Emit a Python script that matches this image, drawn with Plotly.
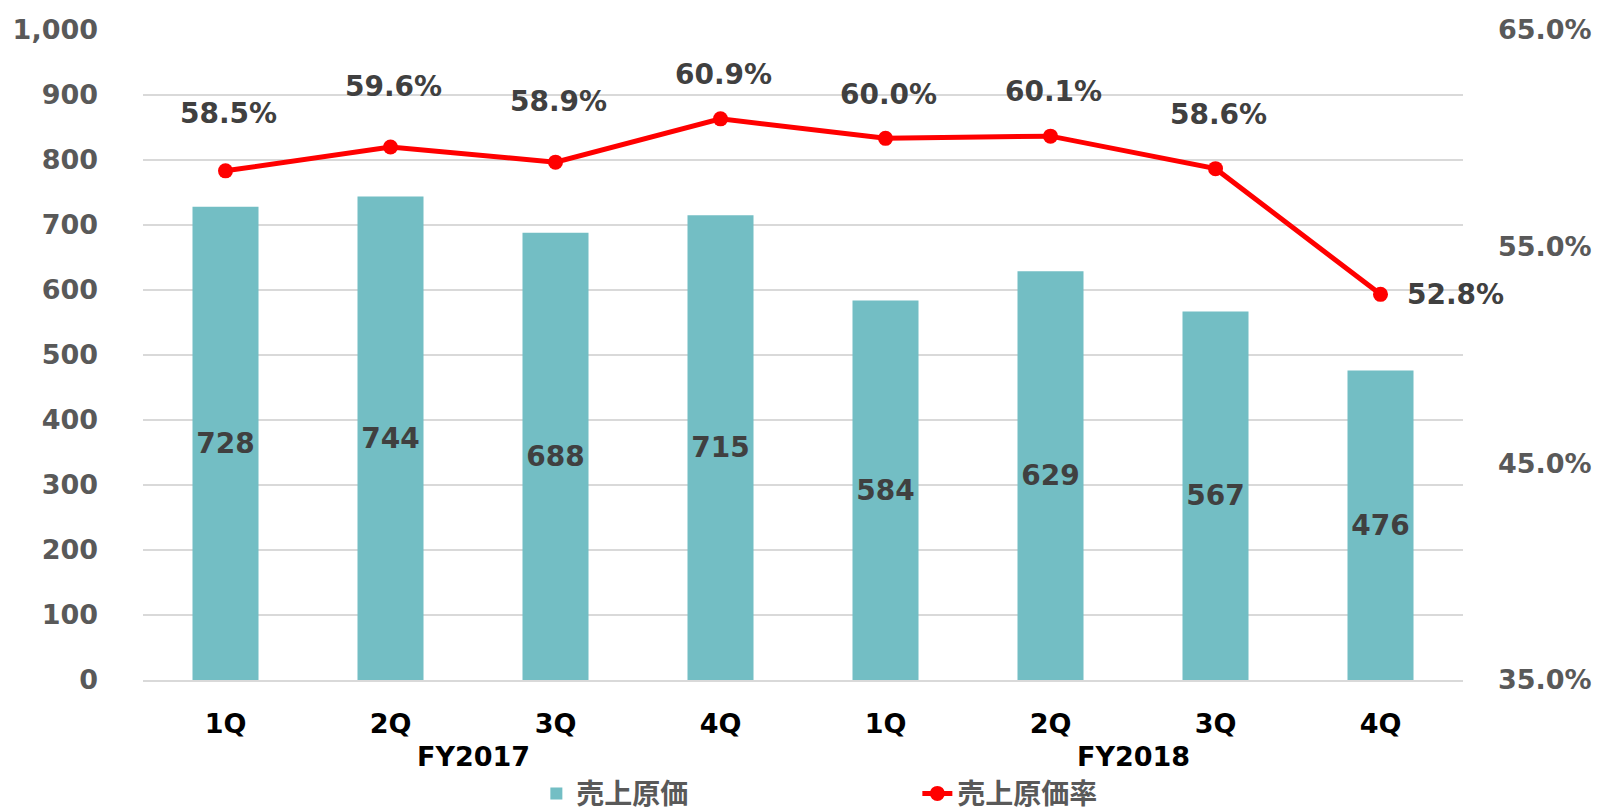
import plotly.graph_objects as go

quarters = ["1Q", "2Q", "3Q", "4Q", "1Q", "2Q", "3Q", "4Q"]
fiscal_years = ["FY2017", "FY2017", "FY2017", "FY2017", "FY2018", "FY2018", "FY2018", "FY2018"]
cost_of_sales = [728, 744, 688, 715, 584, 629, 567, 476]
cost_ratio = [58.5, 59.6, 58.9, 60.9, 60.0, 60.1, 58.6, 52.8]
bar_name = "売上原価"
line_name = "売上原価率"
fy_labels = ["FY2017", "FY2018"]
left_ticks = list(range(0, 1001, 100))
right_ticks = [35, 45, 55, 65]

# label placement style (pixel lift of each ratio label above its point)
label_lift = [57, 61, 61, 44, 44, 45, 54, 0]

FONT = "DejaVu Sans, Noto Sans CJK JP, sans-serif"
x_idx = list(range(len(quarters)))

fig = go.Figure()
fig.add_trace(go.Bar(
    x=x_idx, y=cost_of_sales, name=bar_name,
    marker=dict(color="#73BEC4", line=dict(width=0)),
    width=0.4,
    texttemplate="%{y}", textposition="inside", insidetextanchor="middle",
    textangle=0,
    textfont=dict(family=FONT, size=28, color="#404040", weight="bold"),
    hoverinfo="skip",
))
fig.add_trace(go.Scatter(
    x=x_idx, y=cost_ratio, name=line_name, yaxis="y2",
    mode="lines+markers",
    line=dict(color="#FF0000", width=5),
    marker=dict(color="#FF0000", size=15),
    hoverinfo="skip", cliponaxis=False,
))

annotations = []
n = len(cost_ratio)
for i, v in enumerate(cost_ratio):
    last = i == n - 1
    annotations.append(dict(
        x=i, y=v, xref="x", yref="y2", text=f"{v:.1f}%", showarrow=False,
        xanchor="left" if last else "center", yanchor="middle",
        xshift=24 if last else 3, yshift=label_lift[i],
        font=dict(family=FONT, size=28, color="#404040", weight="bold"),
    ))
for fy in fy_labels:
    idxs = [i for i, f in enumerate(fiscal_years) if f == fy]
    center = (idxs[0] + idxs[-1]) / 2
    annotations.append(dict(
        x=center, y=-0.118, xref="x", yref="paper", text=fy, showarrow=False,
        xanchor="center", yanchor="middle",
        font=dict(family=FONT, size=27, color="#000000", weight="bold"),
    ))

fig.update_layout(
    width=1602, height=812,
    margin=dict(l=135, r=147, t=22, b=140, autoexpand=False),
    plot_bgcolor="white", paper_bgcolor="white",
    bargap=0.6,
    showlegend=True,
    legend=dict(
        orientation="h", x=0.298, xanchor="left", y=-0.1365, yanchor="top",
        font=dict(family=FONT, size=28, color="#595959", weight="bold"),
        entrywidth=336, entrywidthmode="pixels", traceorder="normal",
        bgcolor="rgba(0,0,0,0)",
    ),
    xaxis=dict(
        tickmode="array", tickvals=x_idx, ticktext=quarters,
        range=[-0.5, len(quarters) - 0.5],
        showgrid=False, zeroline=False,
        showline=True, linecolor="#D9D9D9", linewidth=2,
        ticks="", ticklabelstandoff=19, automargin=False,
        tickfont=dict(family=FONT, size=27, color="#000000", weight="bold"),
    ),
    yaxis=dict(
        range=[0, 1000], tickmode="array", tickvals=left_ticks,
        ticktext=[f"{t:,}" for t in left_ticks],
        showgrid=True, gridcolor="#D9D9D9", gridwidth=2,
        zeroline=False, showline=False, ticks="", ticklabelstandoff=44,
        automargin=False,
        tickfont=dict(family=FONT, size=27, color="#595959", weight="bold"),
    ),
    yaxis2=dict(
        overlaying="y", side="right", range=[35, 65],
        tickmode="array", tickvals=right_ticks,
        ticktext=[f"{t:.1f}%" for t in right_ticks],
        showgrid=False, zeroline=False, showline=False, ticks="",
        ticklabelstandoff=34, automargin=False,
        tickfont=dict(family=FONT, size=27, color="#595959", weight="bold"),
    ),
    annotations=annotations,
)

fig.write_html("out.html")
